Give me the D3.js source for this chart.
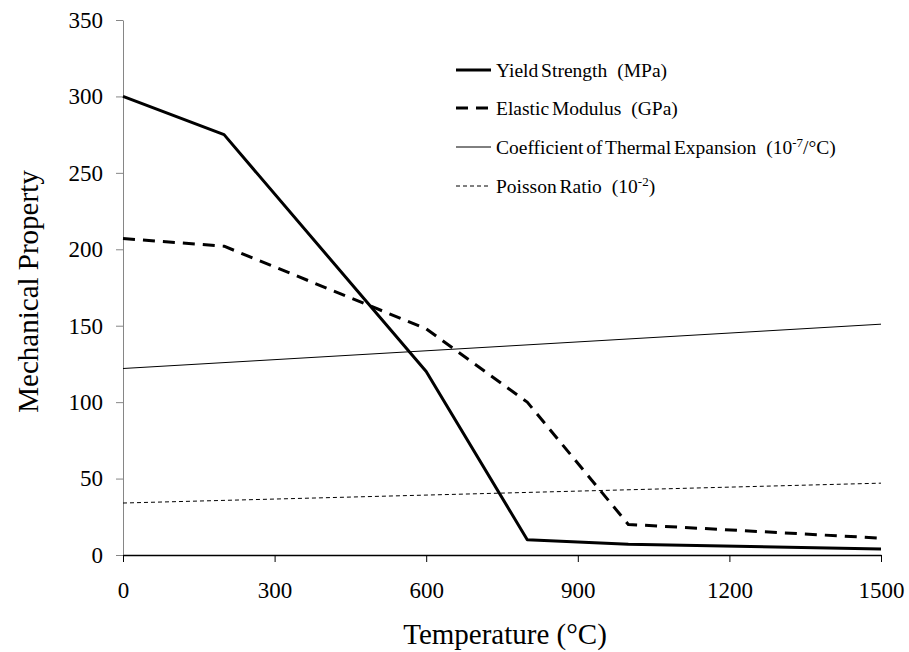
<!DOCTYPE html>
<html>
<head>
<meta charset="utf-8">
<script src="https://cdn.jsdelivr.net/npm/d3@7"></script>
<style>
  html, body { margin: 0; padding: 0; background: #fff; }
  svg { display: block; font-family: "Liberation Serif", "Times New Roman", serif; }
</style>
</head>
<body>
<svg id="chart" width="909" height="652"></svg>
<script>
// ---- data ----
const yieldTemps = [0, 200, 600, 800, 1000, 1500];
const yieldValues = [300, 275, 120, 10, 7, 4];
const modulusTemps = [0, 200, 600, 800, 1000, 1500];
const modulusValues = [207, 202, 148, 100, 20, 11];
const cteTemps = [0, 1500];
const cteValues = [122, 151];
const poissonTemps = [0, 1500];
const poissonValues = [34, 47];
const xTicks = [0, 300, 600, 900, 1200, 1500];
const yTicks = [0, 50, 100, 150, 200, 250, 300, 350];
const seriesNames = ["Yield Strength", "Elastic Modulus", "Coefficient of Thermal Expansion", "Poisson Ratio"];
const seriesUnits = [["(MPa)"], ["(GPa)"], ["(10", "-7", "/°C)"], ["(10", "-2", ")"]];

// ---- layout ----
const W = 909, H = 652;
const margin = { left: 123, top: 20, right: 28, bottom: 97 };
const svg = d3.select("#chart");
const x = d3.scaleLinear().domain([0, 1500]).range([margin.left, W - margin.right]);
const y = d3.scaleLinear().domain([0, 350]).range([H - margin.bottom, margin.top]);

// y axis
const yAxis = svg.append("g")
  .attr("transform", `translate(${margin.left},0)`)
  .call(d3.axisLeft(y).tickValues(yTicks).tickSize(7).tickSizeOuter(0).tickPadding(13));
yAxis.select(".domain").attr("stroke", "#868686").attr("stroke-width", 1);
yAxis.selectAll(".tick line").attr("stroke", "#868686");
yAxis.selectAll(".tick text").attr("font-size", 23).attr("fill", "#000")
  .attr("font-family", "Liberation Serif");

// x axis
const xAxis = svg.append("g")
  .attr("transform", `translate(0,${y(0)})`)
  .call(d3.axisBottom(x).tickValues(xTicks).tickSize(7).tickSizeOuter(0).tickPadding(20).tickFormat(d3.format("d")));
xAxis.select(".domain").attr("stroke", "#000").attr("stroke-width", 1.3);
xAxis.selectAll(".tick line").attr("stroke", "#000");
xAxis.selectAll(".tick text").attr("font-size", 23).attr("fill", "#000")
  .attr("font-family", "Liberation Serif");

// titles
svg.append("text")
  .attr("x", (x(0) + x(1500)) / 2 + 3)
  .attr("y", 644)
  .attr("text-anchor", "middle")
  .attr("font-size", 29)
  .text("Temperature (°C)");
svg.append("text")
  .attr("transform", `translate(38,${(y(0) + y(350)) / 2 + 4}) rotate(-90)`)
  .attr("text-anchor", "middle")
  .attr("font-size", 29)
  .text("Mechanical Property");

// lines
const styles = [
  { w: 3, dash: null },
  { w: 3, dash: "12,8" },
  { w: 1, dash: null },
  { w: 1, dash: "4,3" }
];
const series = [
  [yieldTemps, yieldValues],
  [modulusTemps, modulusValues],
  [cteTemps, cteValues],
  [poissonTemps, poissonValues]
];
const line = d3.line().x(d => x(d[0])).y(d => y(d[1]));
series.forEach((s, i) => {
  const pts = s[0].map((t, j) => [t, s[1][j]]);
  svg.append("path")
    .datum(pts)
    .attr("d", line)
    .attr("fill", "none")
    .attr("stroke", "#000")
    .attr("stroke-width", styles[i].w)
    .attr("stroke-dasharray", styles[i].dash)
    .attr("stroke-linejoin", "round");
});

// legend
const legY = [70, 108, 147, 186];
seriesNames.forEach((name, i) => {
  const g = svg.append("g").attr("transform", `translate(0,${legY[i]})`);
  g.append("line")
    .attr("x1", 456).attr("x2", 491).attr("y1", 0).attr("y2", 0)
    .attr("stroke", "#000")
    .attr("stroke-width", styles[i].w)
    .attr("stroke-dasharray", i === 1 ? "12,8" : styles[i].dash);
  const t = g.append("text")
    .attr("x", 496).attr("y", 6.5)
    .attr("font-size", 19.5)
    .attr("xml:space", "preserve")
    .style("white-space", "pre");
  t.append("tspan").attr("word-spacing", -2).text(name);
  const u = seriesUnits[i];
  t.append("tspan").attr("dx", 10).text(u[0]);
  if (u.length > 1) {
    t.append("tspan").attr("dy", -7).attr("font-size", 13).text(u[1]);
    t.append("tspan").attr("dy", 7).text(u[2]);
  }
});
</script>
</body>
</html>
